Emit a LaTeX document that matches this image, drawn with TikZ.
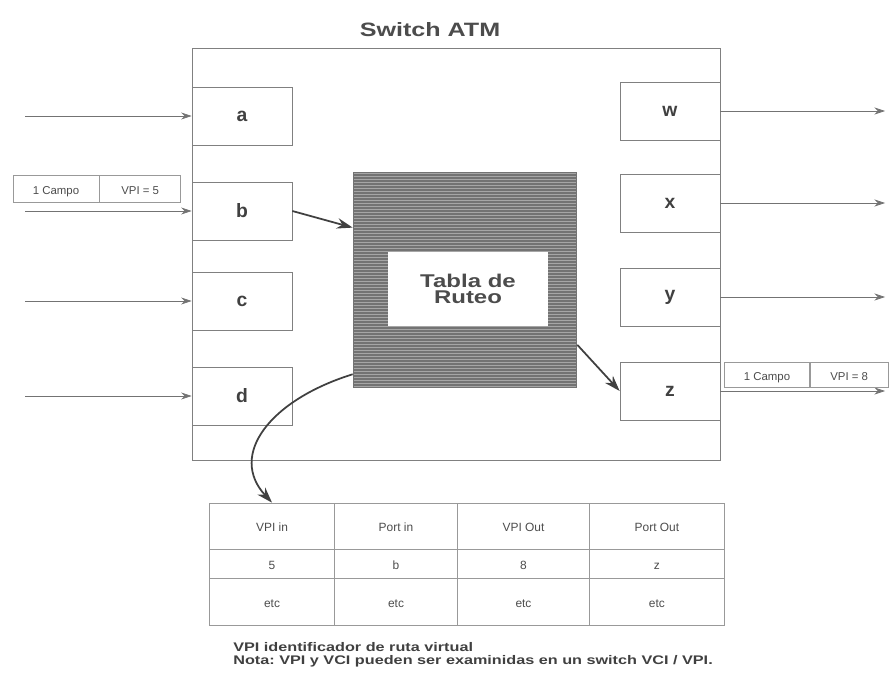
\documentclass[tikz,border=0pt]{standalone}
\usepackage{fontspec}
\setmainfont{Liberation Sans}
\newfontfamily\ancha[FakeStretch=1.3]{Liberation Sans}
\usetikzlibrary{
	arrows.meta,
	positioning,
	matrix
}

\tikzset{
	port/.style={draw=black!50, minimum width=2cm, minimum height=1.16cm, inner sep=0pt,
		font=\bfseries\fontsize{11}{13}\selectfont, text=black!75},
	campo/.style={draw=black!40, minimum height=0.54cm, inner sep=0pt, text height=1.6ex, text depth=0.4ex,
		font=\fontsize{6.5}{8}\selectfont, text=black!70},
	flecha/.style={draw=black!55, -{Stealth[length=6pt,width=4pt]}},
	flechag/.style={draw=black!75, line width=1pt, -{Stealth[length=9pt,width=6pt]}},
	celda/.style={draw=black!40, inner sep=0pt, text height=1.6ex, text depth=0.4ex,
		font=\fontsize{6.8}{8}\selectfont, text=black!70}
}

\begin{document}
\frenchspacing
\begin{tikzpicture}[x=0.02cm, y=-0.02cm]
		\useasboundingbox (0,0) rectangle (890,679);
		% caja del switch
		\node[draw=black!50, minimum width=10.56cm, minimum height=8.24cm, inner sep=0pt] (sw) at (456,254) {};
		\node[font=\ancha\bfseries\fontsize{11}{13}\selectfont, text=black!70] (tit) at (430,30) {Switch ATM};
		% puertos de entrada y salida
		\node[port] (pa) at (242,116) {a};
		\node[port] (pb) at (242,211) {b};
		\node[port] (pc) at (242,301) {c};
		\node[port] (pd) at (242,396) {d};
		\node[port] (pw) at (670,111) {w};
		\node[port] (px) at (670,203) {x};
		\node[port] (py) at (670,297) {y};
		\node[port] (pz) at (670,391) {z};
		% tabla de ruteo (bloque rayado)
		\node[fill=black!55, minimum width=4.48cm, minimum height=4.32cm, inner sep=0pt] (tab) at (465,280) {};
		\foreach \yy in {173,176,...,386}
			\draw[white!65!black, line width=0.45pt] (354,\yy) -- (576,\yy);
		\node[fill=white, minimum width=3.2cm, minimum height=1.48cm, align=center,
			font=\ancha\bfseries\fontsize{10.5}{9.5}\selectfont, text=black!70] (rut) at (468,289) {Tabla de\\Ruteo};
		% flechas de entrada
		\foreach \p/\yy in {pa/116, pb/211, pc/301, pd/396} {
			\coordinate (in-\p) at (25,\yy);
			\draw[flecha] (in-\p) -- (\p.west);
		}
		% flechas de salida
		\foreach \p/\yy in {pw/111, px/203, py/297, pz/391} {
			\coordinate (out-\p) at (885,\yy);
			\draw[flecha] (\p.east) -- (out-\p);
		}
		% celdas
		\node[campo, minimum width=1.72cm] (ci1) at (56,189) {1 Campo};
		\node[campo, minimum width=1.62cm, right=0pt of ci1] (ci2) {VPI = 5};
		\node[campo, minimum width=1.7cm, minimum height=0.5cm] (co1) at (767,375) {1 Campo};
		\node[campo, minimum width=1.56cm, minimum height=0.5cm, right=0pt of co1] (co2) {VPI = 8};
		% tabla
		\matrix (rt) at (467,564) [matrix of nodes, nodes={celda},
			column sep=-\pgflinewidth, row sep=-\pgflinewidth,
			column 1/.style={nodes={minimum width=2.5cm}},
			column 2/.style={nodes={minimum width=2.46cm}},
			column 3/.style={nodes={minimum width=2.64cm}},
			column 4/.style={nodes={minimum width=2.7cm}},
			row 1/.style={nodes={minimum height=0.92cm}},
			row 2/.style={nodes={minimum height=0.58cm}},
			row 3/.style={nodes={minimum height=0.94cm}}] {
			VPI in & Port in & VPI Out & Port Out \\
			5 & b & 8 & z \\
			etc & etc & etc & etc \\
		};
		% conexiones
		\draw[flechag] (pb.east) -- (tab.155);
		\draw[flechag] (tab.-30) -- (pz.west);
		\draw[flechag] (tab.-140) .. controls (270,400) and (228,455) .. (rt-1-1.north);
		% notas
		\node[anchor=north west, align=left, inner sep=0pt, font=\ancha\bfseries\fontsize{7.1}{7.4}\selectfont,
			text=black!75] (nota) at (233,642) {VPI identificador de ruta virtual\\Nota: VPI y VCI pueden ser examinidas en un switch VCI / VPI.};
	\end{tikzpicture}
\end{document}
